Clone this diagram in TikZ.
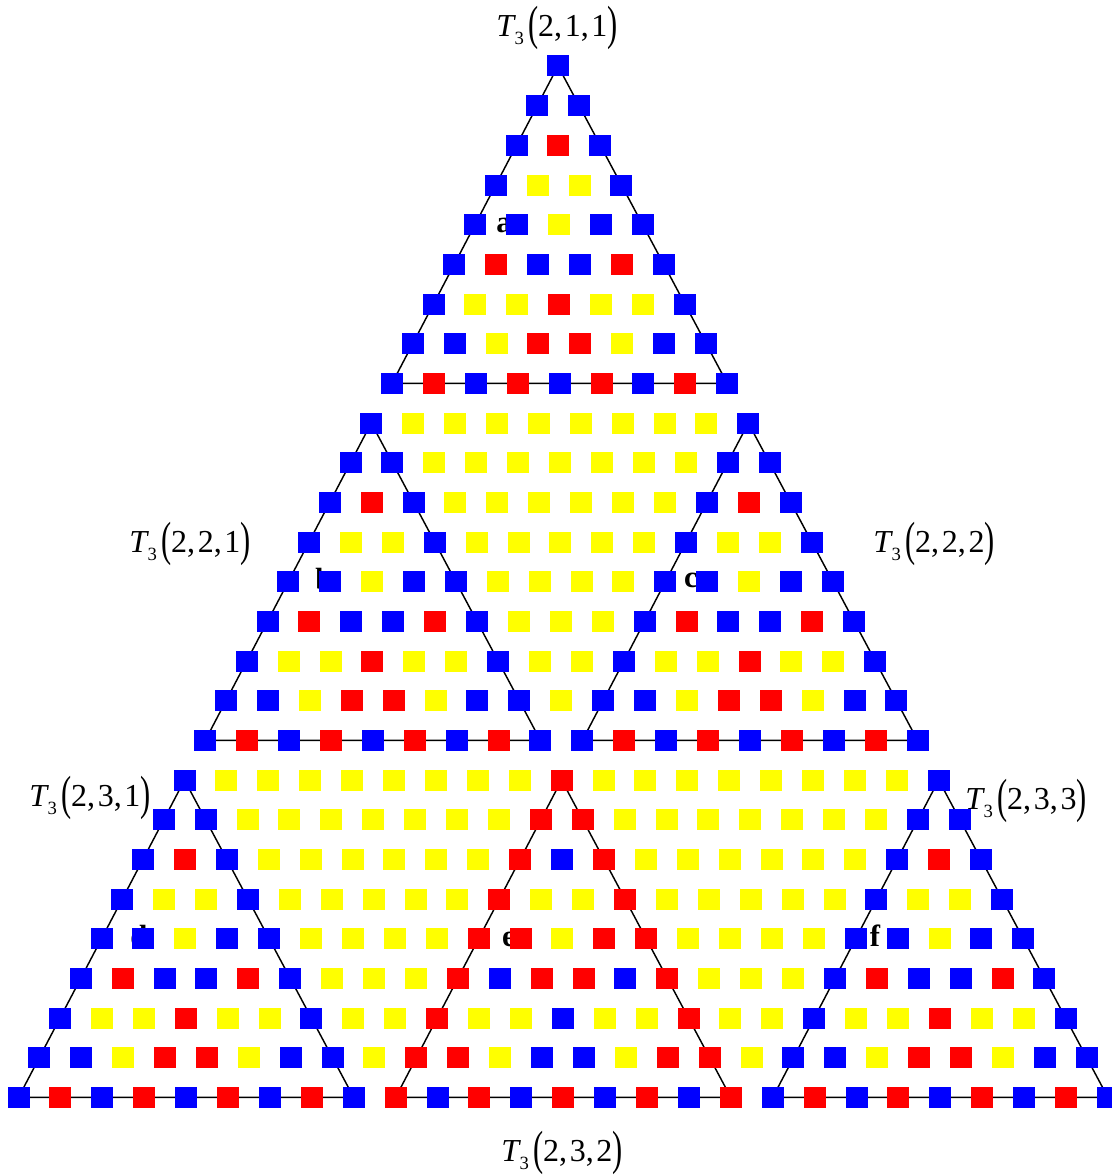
\documentclass[tikz,border=0pt]{standalone}
\usepackage{fontspec}
\usepackage{graphicx}
\setmainfont{Liberation Serif}

\tikzset{every picture/.style={line width=0.75pt}}
\tikzset{
  cell0/.style={fill={rgb, 255:red, 255; green, 255; blue, 0 }},
  cell1/.style={fill={rgb, 255:red, 0; green, 0; blue, 255 }},
  cell2/.style={fill={rgb, 255:red, 255; green, 0; blue, 0 }},
  edge/.style={draw={rgb, 255:red, 0; green, 0; blue, 0 }, line width=1.1pt},
  sublabel/.style={anchor=base, inner sep=0.75pt, font=\fontsize{23}{27}\selectfont\bfseries},
  tlabel/.style={inner sep=0.75pt, font=\fontsize{24}{28}\selectfont},
}

% one Lucas digit of C(n,k) mod 3
\pgfmathdeclarefunction{lucasd}{2}{\pgfmathparse{ifthenelse(#2>#1,0,ifthenelse(and(#1==2,#2==1),2,1))}}

\newcommand{\tparen}[1]{\raisebox{-2.6pt}{\scalebox{0.95}[1.5]{#1}}}
\newcommand{\tthree}[3]{\textit{T}\kern-1pt\raisebox{-6pt}{\fontsize{14}{16}\selectfont 3}\kern3pt\tparen{(}#1,\kern2pt#2,\kern2pt#3\tparen{)}}

\begin{document}
\begin{tikzpicture}[x=0.75pt,y=0.75pt,yscale=-1,xscale=1]
\useasboundingbox (0,0) rectangle (1111,1176);

%Shape: Triangles a..f
\foreach \name/\R/\K in {a/0/0,b/9/0,c/9/9,d/18/0,e/18/9,f/18/18}{
  \pgfmathsetmacro\Rb{\R+8}
  \pgfmathsetmacro\Kb{\K+8}
  \coordinate (\name top) at ({558+0.2*\R+(\K-\R/2)*41.9},{66+\R*39.67});
  \coordinate (\name left) at ({558+0.2*\Rb+(\K-\Rb/2)*41.9},{66+\Rb*39.67});
  \coordinate (\name right) at ({558+0.2*\Rb+(\Kb-\Rb/2)*41.9},{66+\Rb*39.67});
  \draw [edge] (\name top) -- (\name left) -- (\name right) -- cycle ;
}

% Text Node
\node [sublabel] (lbl a) at (504,233) {a};
% Text Node
\node [sublabel] (lbl b) at (324,589) {b};
% Text Node
\node [sublabel] (lbl c) at (691,587) {c};
% Text Node
\node [sublabel] (lbl d) at (139,946) {d};
% Text Node
\node [sublabel] (lbl e) at (509,946) {e};
% Text Node
\node [sublabel] (lbl f) at (875,946) {f};

%Shape: Squares, C(r,k) mod 3
\foreach \r in {0,...,26}{
  \foreach \k in {0,...,\r}{
    \pgfmathtruncatemacro\cv{mod(lucasd(mod(\r,3),mod(\k,3))*lucasd(mod(floor(\r/3),3),mod(floor(\k/3),3))*lucasd(floor(\r/9),floor(\k/9)),3)}
    \fill [cell\cv] ({558+0.2*\r+(\k-\r/2)*41.9-11},{66+\r*39.67-10.5}) rectangle ++(22,21) ;
  }
}

% Text Node
\node [tlabel] (t211) at (557,28) {\tthree{2}{1}{1}};
% Text Node
\node [tlabel] (t221) at (190,544) {\tthree{2}{2}{1}};
% Text Node
\node [tlabel] (t222) at (934,544) {\tthree{2}{2}{2}};
% Text Node
\node [tlabel] (t231) at (90,798) {\tthree{2}{3}{1}};
% Text Node
\node [tlabel] (t233) at (1026,801) {\tthree{2}{3}{3}};
% Text Node
\node [tlabel] (t232) at (562,1153) {\tthree{2}{3}{2}};

\end{tikzpicture}
\end{document}
